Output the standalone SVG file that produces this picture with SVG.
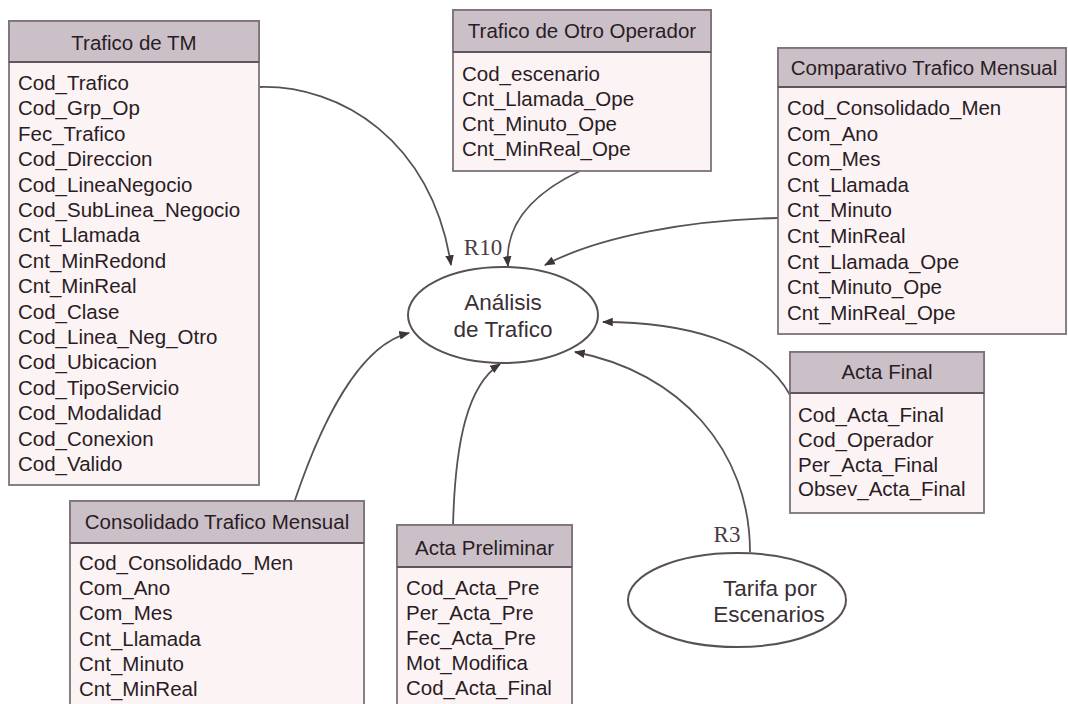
<svg xmlns="http://www.w3.org/2000/svg" width="1068" height="704" viewBox="0 0 1068 704">
  <style>
    .body { fill: #fcf3f5; stroke: #7d737a; stroke-width: 1.8; }
    .head { fill: #cbc0c8; stroke: #7d737a; stroke-width: 1.8; }
    .sep { stroke: #5f555c; stroke-width: 2; }
    .ht { font-family: "Liberation Sans", Arial, sans-serif; font-size: 20.5px; fill: #2a1c24; text-anchor: middle; }
    .rt { font-family: "Liberation Sans", Arial, sans-serif; font-size: 20.5px; fill: #2a1c24; }
    .et { font-family: "Liberation Sans", Arial, sans-serif; font-size: 22.5px; fill: #3a3036; text-anchor: middle; }
    .lbl { font-family: "Liberation Serif", "Times New Roman", serif; font-size: 23px; fill: #4a3c45; text-anchor: middle; }
    .ell { fill: #ffffff; stroke: #5a5058; stroke-width: 2; }
    .conn { fill: none; stroke: #5a5058; stroke-width: 1.8; marker-end: url(#arr); }
  </style>
  <defs>
    <marker id="arr" viewBox="0 0 10 10" refX="9" refY="5" markerWidth="6" markerHeight="6" orient="auto" markerUnits="strokeWidth">
      <path d="M0,1 L10,5 L0,9 Z" fill="#3e353b"/>
    </marker>
  </defs>
  <rect width="1068" height="704" fill="#ffffff"/>

  <!-- connectors -->
  <g id="connectors">
    <path class="conn" d="M260,87 C340,85 432,140 451,265"/>
    <path class="conn" d="M580,171 C540,190 504,220 508,266"/>
    <path class="conn" d="M778,218 C690,220 600,236 545,265"/>
    <path class="conn" d="M790,395 C760,340 680,322 603,322"/>
    <path class="conn" d="M750,552 C750,450 680,372 575,352"/>
    <path class="conn" d="M453,527 C455,440 468,385 500,364"/>
    <path class="conn" d="M295,500 C322,420 360,345 409,333"/>
  </g>

  <!-- relation labels -->
  <text class="lbl" x="483" y="255">R10</text>
  <text class="lbl" x="727" y="542">R3</text>

  <!-- Trafico de TM -->
  <g id="trafico-tm">
    <rect class="body" x="9" y="21" width="250" height="464"/>
    <rect class="head" x="9" y="21" width="250" height="41"/>
    <line class="sep" x1="9" y1="62" x2="259" y2="62"/>
    <text class="ht" x="134" y="50">Trafico de TM</text>
    <text class="rt" x="18" y="90">Cod_Trafico</text>
    <text class="rt" x="18" y="115.4">Cod_Grp_Op</text>
    <text class="rt" x="18" y="140.8">Fec_Trafico</text>
    <text class="rt" x="18" y="166.2">Cod_Direccion</text>
    <text class="rt" x="18" y="191.6">Cod_LineaNegocio</text>
    <text class="rt" x="18" y="217">Cod_SubLinea_Negocio</text>
    <text class="rt" x="18" y="242.4">Cnt_Llamada</text>
    <text class="rt" x="18" y="267.8">Cnt_MinRedond</text>
    <text class="rt" x="18" y="293.2">Cnt_MinReal</text>
    <text class="rt" x="18" y="318.6">Cod_Clase</text>
    <text class="rt" x="18" y="344">Cod_Linea_Neg_Otro</text>
    <text class="rt" x="18" y="369.4">Cod_Ubicacion</text>
    <text class="rt" x="18" y="394.8">Cod_TipoServicio</text>
    <text class="rt" x="18" y="420.2">Cod_Modalidad</text>
    <text class="rt" x="18" y="445.6">Cod_Conexion</text>
    <text class="rt" x="18" y="471">Cod_Valido</text>
  </g>

  <!-- Trafico de Otro Operador -->
  <g id="trafico-otro-operador">
    <rect class="body" x="453" y="10" width="258" height="161"/>
    <rect class="head" x="453" y="10" width="258" height="42"/>
    <line class="sep" x1="453" y1="52" x2="711" y2="52"/>
    <text class="ht" x="582" y="38">Trafico de Otro Operador</text>
    <text class="rt" x="462" y="81">Cod_escenario</text>
    <text class="rt" x="462" y="106">Cnt_Llamada_Ope</text>
    <text class="rt" x="462" y="131">Cnt_Minuto_Ope</text>
    <text class="rt" x="462" y="156">Cnt_MinReal_Ope</text>
  </g>

  <!-- Comparativo Trafico Mensual -->
  <g id="comparativo-trafico-mensual">
    <rect class="body" x="778" y="48" width="288" height="286"/>
    <rect class="head" x="778" y="48" width="288" height="39"/>
    <line class="sep" x1="778" y1="87" x2="1066" y2="87"/>
    <text class="ht" x="924" y="75">Comparativo Trafico Mensual</text>
    <text class="rt" x="787" y="115">Cod_Consolidado_Men</text>
    <text class="rt" x="787" y="140.6">Com_Ano</text>
    <text class="rt" x="787" y="166.2">Com_Mes</text>
    <text class="rt" x="787" y="191.8">Cnt_Llamada</text>
    <text class="rt" x="787" y="217.4">Cnt_Minuto</text>
    <text class="rt" x="787" y="243">Cnt_MinReal</text>
    <text class="rt" x="787" y="268.6">Cnt_Llamada_Ope</text>
    <text class="rt" x="787" y="294.2">Cnt_Minuto_Ope</text>
    <text class="rt" x="787" y="319.8">Cnt_MinReal_Ope</text>
  </g>

  <!-- Analisis de Trafico -->
  <g id="analisis-trafico">
    <ellipse class="ell" cx="503" cy="315" rx="95" ry="48"/>
    <text class="et" x="503" y="310">Análisis</text>
    <text class="et" x="503" y="337">de Trafico</text>
  </g>

  <!-- Acta Final -->
  <g id="acta-final">
    <rect class="body" x="790" y="352" width="194" height="161"/>
    <rect class="head" x="790" y="352" width="194" height="41"/>
    <line class="sep" x1="790" y1="393" x2="984" y2="393"/>
    <text class="ht" x="887" y="379">Acta Final</text>
    <text class="rt" x="798" y="422">Cod_Acta_Final</text>
    <text class="rt" x="798" y="446.8">Cod_Operador</text>
    <text class="rt" x="798" y="471.6">Per_Acta_Final</text>
    <text class="rt" x="798" y="496.4">Obsev_Acta_Final</text>
  </g>

  <!-- Consolidado Trafico Mensual -->
  <g id="consolidado-trafico-mensual">
    <rect class="body" x="70" y="501" width="294" height="215"/>
    <rect class="head" x="70" y="501" width="294" height="42"/>
    <line class="sep" x1="70" y1="543" x2="364" y2="543"/>
    <text class="ht" x="217" y="529">Consolidado Trafico Mensual</text>
    <text class="rt" x="79" y="570">Cod_Consolidado_Men</text>
    <text class="rt" x="79" y="595.2">Com_Ano</text>
    <text class="rt" x="79" y="620.4">Com_Mes</text>
    <text class="rt" x="79" y="645.6">Cnt_Llamada</text>
    <text class="rt" x="79" y="670.8">Cnt_Minuto</text>
    <text class="rt" x="79" y="696">Cnt_MinReal</text>
  </g>

  <!-- Acta Preliminar -->
  <g id="acta-preliminar">
    <rect class="body" x="397" y="525" width="175" height="191"/>
    <rect class="head" x="397" y="525" width="175" height="42"/>
    <line class="sep" x1="397" y1="567" x2="572" y2="567"/>
    <text class="ht" x="484.5" y="555">Acta Preliminar</text>
    <text class="rt" x="406" y="595">Cod_Acta_Pre</text>
    <text class="rt" x="406" y="620">Per_Acta_Pre</text>
    <text class="rt" x="406" y="645">Fec_Acta_Pre</text>
    <text class="rt" x="406" y="670">Mot_Modifica</text>
    <text class="rt" x="406" y="695">Cod_Acta_Final</text>
  </g>

  <!-- Tarifa por Escenarios -->
  <g id="tarifa-escenarios">
    <ellipse class="ell" cx="737" cy="600" rx="109" ry="47"/>
    <text class="et" x="770" y="596">Tarifa por</text>
    <text class="et" x="769" y="622">Escenarios</text>
  </g>
</svg>
